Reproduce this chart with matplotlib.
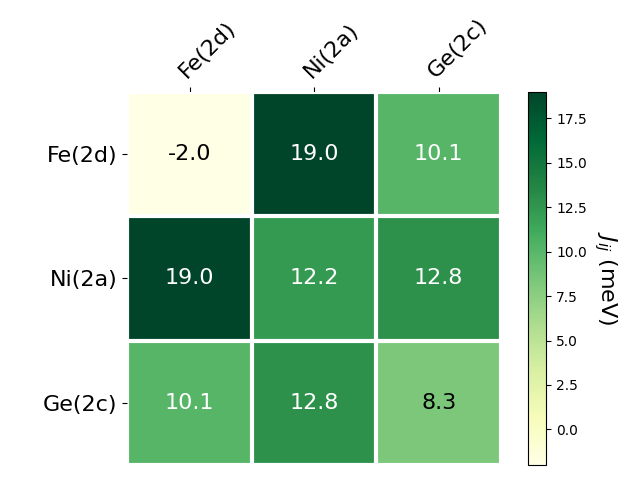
import numpy as np
import matplotlib
matplotlib.use("Agg")
import matplotlib.pyplot as plt

sites = ["Fe(2d)", "Ni(2a)", "Ge(2c)"]
row_fe = [-2.0, 19.0, 10.1]
row_ni = [19.0, 12.2, 12.8]
row_ge = [10.1, 12.8, 8.3]
data = np.array([row_fe, row_ni, row_ge])

fig, ax = plt.subplots(figsize=(6.4, 4.8), dpi=100)

im = ax.imshow(data, cmap="YlGn")
cbar = ax.figure.colorbar(im, ax=ax)
cbar.ax.set_ylabel("$J_{ij}$ (meV)", rotation=-90, va="bottom", fontsize=16)

ax.set_xticks(np.arange(data.shape[1]), labels=sites, fontsize=16)
ax.set_yticks(np.arange(data.shape[0]), labels=sites, fontsize=16)
ax.tick_params(top=True, bottom=False, labeltop=True, labelbottom=False)
plt.setp(ax.get_xticklabels(), rotation=45, ha="left", rotation_mode="anchor")

ax.spines[:].set_visible(False)
ax.set_xticks(np.arange(data.shape[1] + 1) - .5, minor=True)
ax.set_yticks(np.arange(data.shape[0] + 1) - .5, minor=True)
ax.grid(which="minor", color="w", linestyle="-", linewidth=3)
ax.tick_params(which="minor", bottom=False, left=False)

threshold = im.norm(data.max()) / 2.
for i in range(data.shape[0]):
    for j in range(data.shape[1]):
        color = "white" if im.norm(data[i, j]) > threshold else "black"
        ax.text(j, i, f"{data[i, j]:.1f}", ha="center", va="center",
                color=color, fontsize=16)

fig.tight_layout()
fig.savefig("out.png", dpi=100)
